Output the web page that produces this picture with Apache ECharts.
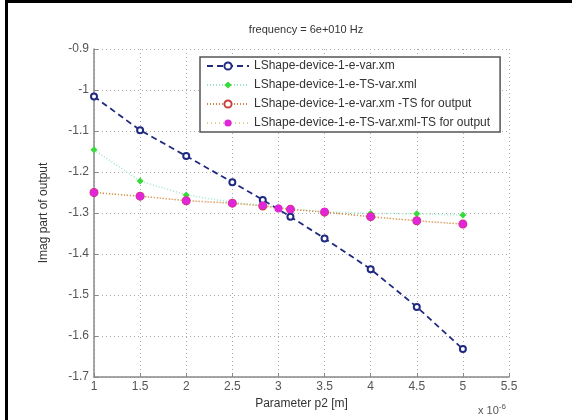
<!DOCTYPE html>
<html><head><meta charset="utf-8">
<script src="https://cdn.jsdelivr.net/npm/echarts@6/dist/echarts.min.js"></script>
<style>html,body{margin:0;padding:0;background:#fff}#c{width:572px;height:420px}</style>
</head><body><div id="c"></div>
<script>
const seriesNames = [
  'LShape-device-1-e-var.xm',
  'LShape-device-1-e-TS-var.xml',
  'LShape-device-1-e-var.xm -TS for output',
  'LShape-device-1-e-TS-var.xml-TS for output'
];
const xA = [1, 1.5, 2, 2.5, 2.83, 3.13, 3.5, 4, 4.5, 5];
const xB = [1, 1.5, 2, 2.5, 2.83, 3.0, 3.13, 3.5, 4, 4.5, 5];
const yVar = [-1.016, -1.098, -1.161, -1.225, -1.268, -1.309, -1.362, -1.437, -1.529, -1.632];
const yTSvar = [-1.146, -1.222, -1.256, -1.274, -1.281, -1.286, -1.290, -1.297, -1.301, -1.302, -1.305];
const yVarTS = [-1.250, -1.259, -1.270, -1.276, -1.283, -1.291, -1.298, -1.309, -1.319, -1.327];
const yTSvarTS = [-1.250, -1.259, -1.270, -1.276, -1.282, -1.289, -1.291, -1.297, -1.309, -1.319, -1.327];
const titleText = 'frequency = 6e+010 Hz';
const xName = 'Parameter p2 [m]';
const yName = 'Imag part of output';

const pairs = (xs, ys) => xs.map((x, i) => [x, ys[i]]);
const FONT = 'Liberation Sans';
const chart = echarts.init(document.getElementById('c'), null, {renderer: 'canvas'});
chart.setOption({
  animation: false,
  backgroundColor: '#fff',
  title: {text: titleText, left: 301, top: 19, textAlign: 'center',
    textStyle: {fontFamily: "'Liberation Sans Narrow', 'Liberation Sans'", fontSize: 11, fontWeight: 'normal', color: '#333'}},
  grid: {left: 94, right: 63, top: 49, bottom: 43},
  legend: {
    orient: 'vertical', left: 200, top: 57,
    backgroundColor: '#fff', borderColor: '#555', borderWidth: 1.5,
    padding: [3, 10, 3, 6], itemGap: 7, itemWidth: 42, itemHeight: 9,
    textStyle: {fontFamily: FONT, fontSize: 12, color: '#333'},
    data: seriesNames
  },
  xAxis: {
    type: 'value', min: 1, max: 5.5, interval: 0.5,
    name: xName, nameLocation: 'middle', nameGap: 21,
    nameTextStyle: {fontFamily: FONT, fontSize: 12, color: '#333'},
    axisLine: {lineStyle: {color: '#888', width: 1.5}},
    axisTick: {inside: true, length: 4, lineStyle: {color: '#888'}},
    axisLabel: {fontFamily: FONT, fontSize: 12, color: '#555', margin: 4,
      formatter: v => String(Math.round(v * 10) / 10)},
    splitLine: {show: true, lineStyle: {color: '#aaa', type: [1, 3], width: 1}}
  },
  yAxis: {
    type: 'value', min: -1.7, max: -0.9, interval: 0.1,
    name: yName, nameLocation: 'middle', nameGap: 44, nameRotate: 90,
    nameTextStyle: {fontFamily: FONT, fontSize: 12, color: '#333'},
    axisLine: {show: true, lineStyle: {color: '#888', width: 1.5}},
    axisTick: {show: true, inside: true, length: 4, lineStyle: {color: '#888'}},
    axisLabel: {fontFamily: FONT, fontSize: 12, color: '#555', margin: 5,
      formatter: v => String(Math.round(v * 10) / 10)},
    splitLine: {show: true, lineStyle: {color: '#aaa', type: [1, 3], width: 1}}
  },
  series: [
    {name: seriesNames[0], type: 'line', data: pairs(xA, yVar), z: 5,
      symbol: 'emptyCircle', symbolSize: 6,
      lineStyle: {color: '#1f2a80', width: 1.8, type: [6, 4]},
      itemStyle: {color: '#1f2a80', borderWidth: 1.8}},
    {name: seriesNames[1], type: 'line', data: pairs(xB, yTSvar), z: 3,
      symbol: 'diamond', symbolSize: 7,
      lineStyle: {color: '#9ee6c8', width: 1.5, type: [1, 2]},
      itemStyle: {color: '#39d93c'}},
    {name: seriesNames[2], type: 'line', data: pairs(xA, yVarTS), z: 4,
      symbol: 'emptyCircle', symbolSize: 7,
      lineStyle: {color: '#d9834a', width: 1.5, type: [1, 2]},
      itemStyle: {color: '#c8403a', borderWidth: 1.5}},
    {name: seriesNames[3], type: 'line', data: pairs(xB, yTSvarTS), z: 6,
      symbol: 'circle', symbolSize: 8,
      lineStyle: {color: '#c9b04a', width: 1.2, type: [1, 3], opacity: 0.6},
      itemStyle: {color: '#e026d8'}}
  ],
  graphic: [
    {type: 'rect', left: 5, top: 0, shape: {width: 3, height: 420}, style: {fill: '#000'}},
    {type: 'rect', left: 5, top: 0, shape: {width: 567, height: 3}, style: {fill: '#000'}},
    {type: 'text', left: 478, top: 403, style: {
      text: 'x 10{s|-6}', fontFamily: FONT, fontSize: 11, fill: '#555',
      rich: {s: {fontSize: 8, verticalAlign: 'top', padding: [0, 0, 8, 0], fill: '#555', fontFamily: FONT}}}}
  ]
});
</script></body></html>
